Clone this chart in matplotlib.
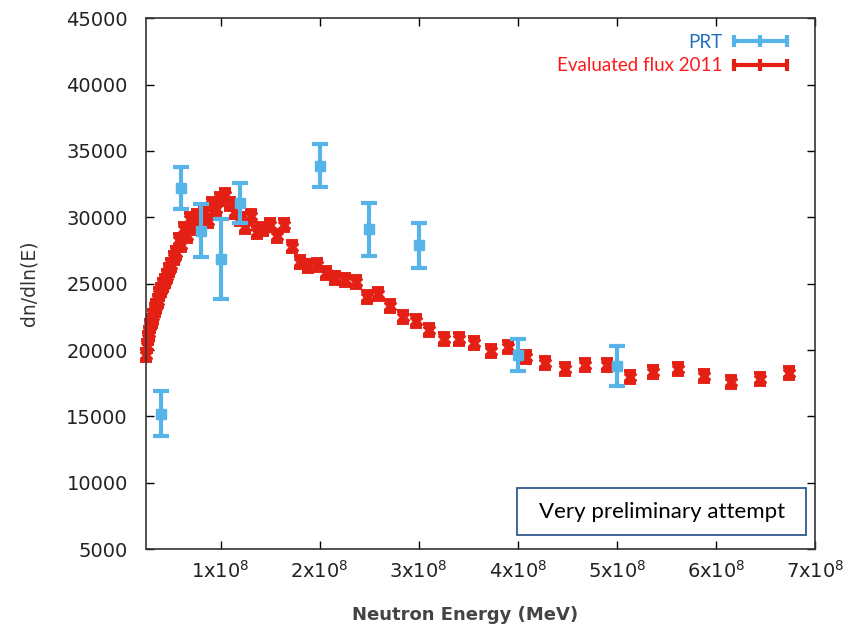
import numpy as np
import matplotlib
matplotlib.use("Agg")
import matplotlib.pyplot as plt
from matplotlib.lines import Line2D
from matplotlib.patches import Rectangle

# ---------------- data ----------------
# Evaluated flux 2011 (energy in units of 1e8 MeV)
flux_e = [0.242, 0.253, 0.265, 0.278, 0.291, 0.304, 0.318, 0.333, 0.349, 0.365,
          0.382, 0.400, 0.419, 0.438, 0.459, 0.480, 0.502, 0.526, 0.550, 0.576,
          0.603, 0.631, 0.660, 0.691, 0.723, 0.757, 0.792, 0.829, 0.868, 0.908,
          0.951, 0.995, 1.041, 1.090, 1.141, 1.194, 1.249, 1.308, 1.369, 1.432,
          1.499, 1.569, 1.642, 1.719, 1.799, 1.883, 1.970, 2.062, 2.158, 2.259,
          2.364, 2.474, 2.590, 2.710, 2.837, 2.969, 3.107, 3.252, 3.404, 3.562,
          3.728, 3.902, 4.084, 4.274, 4.473, 4.682, 4.900, 5.128, 5.367, 5.617,
          5.879, 6.153, 6.440, 6.740]
flux_v = [19600, 20300, 20900, 21300, 21800, 22200, 22600, 23000, 23300, 23700,
          24200, 24500, 24900, 25200, 25600, 26000, 26400, 26900, 27300, 28300,
          27900, 29100, 28600, 29900, 29200, 30100, 29500, 30300, 29700, 31000,
          30600, 31400, 31700, 31000, 30400, 29900, 29300, 30100, 28900, 29100,
          29400, 28600, 29400, 27800, 26600, 26300, 26400, 25800, 25400, 25300,
          25100, 24000, 24200, 23300, 22500, 22200, 21500, 20800, 20850, 20500,
          19900, 20200, 19450, 19050, 18600, 18850, 18850, 17950, 18350, 18550,
          18050, 17600, 17850, 18250]
flux_err = 450

# PRT measurement
prt_e = [0.4, 0.6, 0.8, 1.0, 1.2, 2.0, 2.5, 3.0, 4.0, 5.0]
prt_v = [15200, 32200, 29000, 26850, 31050, 33900, 29100, 27900, 19600, 18800]
prt_err = [1700, 1600, 2000, 3000, 1500, 1600, 2000, 1700, 1200, 1500]

xtick_vals = [1, 2, 3, 4, 5, 6, 7]
xtick_labels = [r"1x10$^{8}$", r"2x10$^{8}$", r"3x10$^{8}$", r"4x10$^{8}$",
                r"5x10$^{8}$", r"6x10$^{8}$", r"7x10$^{8}$"]
ytick_vals = [5000, 10000, 15000, 20000, 25000, 30000, 35000, 40000, 45000]

BLUE = "#56b4e9"
RED = "#e41f14"

# ---------------- plot ----------------
fig = plt.figure(figsize=(8.58, 6.29), dpi=100)
ax = fig.add_axes([0.170, 0.127, 0.780, 0.844])

flux_x = np.array(flux_e) * 1e8
prt_x = np.array(prt_e) * 1e8

ax.errorbar(flux_x, flux_v, yerr=flux_err, fmt="X", color=RED, ms=8,
            elinewidth=2.8, capsize=4, capthick=2.8, clip_on=False, zorder=2)
ax.errorbar(prt_x, prt_v, yerr=prt_err, fmt="s", color=BLUE, ms=6.5,
            elinewidth=3, capsize=5.5, capthick=3, zorder=3)

ax.set_xlim(0.245e8, 7e8)
ax.set_ylim(5000, 45000)
ax.set_xticks(np.array(xtick_vals) * 1e8)
ax.set_xticklabels(xtick_labels)
ax.set_yticks(ytick_vals)

ax.tick_params(direction="in", top=True, right=True, length=5.5, width=1,
               labelsize=14, labelcolor="#222222")
ax.tick_params(axis="y", pad=13)
ax.tick_params(axis="x", pad=8)
for s in ax.spines.values():
    s.set_linewidth(1.2)
    s.set_color("#333333")

ax.set_xlabel("Neutron Energy (MeV)", fontsize=13, fontweight="bold",
              color="#444444")
ax.xaxis.set_label_coords(0.477, -0.108)
ax.set_ylabel("dn/dln(E)", fontsize=13.5, color="#333333", labelpad=20)

# legend (gnuplot style, sample on the right)
handles = [Line2D([], [], color=BLUE, lw=3, marker="|", ms=8, mew=3),
           Line2D([], [], color=RED, lw=3, marker="|", ms=8, mew=3)]
leg = ax.legend(handles, ["PRT", "Evaluated flux 2011"], loc="upper right",
                bbox_to_anchor=(0.977, 0.985), frameon=False, markerfirst=False,
                numpoints=3, handlelength=3.4, handletextpad=0.3,
                labelspacing=0.35, borderaxespad=0,
                labelcolor=["#1f6fc0", "#ff1a1a"],
                prop={"family": "Lato", "size": 13.5})

# annotation box
ax.add_patch(Rectangle((0.5546, 0.0264), 0.432, 0.0885, transform=ax.transAxes,
                       fill=True, facecolor="white", edgecolor="#2f5a8f",
                       lw=1.3, zorder=4))
ax.text(0.7706, 0.0706, "Very preliminary attempt", transform=ax.transAxes,
        ha="center", va="center", fontsize=16, family="Lato", color="black",
        zorder=5)

fig.savefig("out.png", dpi=100)
